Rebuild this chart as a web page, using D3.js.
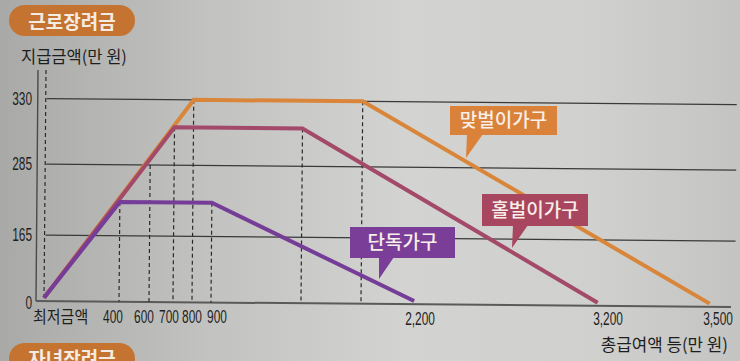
<!DOCTYPE html>
<html><head><meta charset="utf-8">
<script src="https://cdn.jsdelivr.net/npm/d3@7"></script>
<style>body{margin:0;background:#c8c8c6;} svg{display:block;}</style>
</head><body><svg id="c" width="740" height="361"></svg>
<script>
// ---- data ----
const chartTitle = "근로장려금";
const nextTitle = "자녀장려금";
const yTitle = "지급금액(만 원)";
const xTitle = "총급여액 등(만 원)";
const seriesNames = ["맞벌이가구", "홀벌이가구", "단독가구"];
const xBreaks = [0, 400, 600, 700, 800, 900, 1400, 1700, 2200, 3200, 3500];
const xTickValues = [0, 400, 600, 700, 800, 900, 2200, 3200, 3500];
const xTickLabels = ["최저금액", "400", "600", "700", "800", "900", "2,200", "3,200", "3,500"];
const yTickValues = [0, 165, 285, 330];
const yTickLabels = ["0", "165", "285", "330"];
const gridValues = [165, 285, 330];
const incomeDual = [0, 800, 1700, 3480];
const amountDual = [8, 330, 330, 8];
const incomeOne = [0, 700, 1400, 3150];
const amountOne = [8, 311, 311, 8];
const incomeSingle = [0, 400, 900, 2150];
const amountSingle = [8, 222, 222, 8];
const guideX = [0, 400, 600, 700, 800, 900, 1400, 1700];
const guideTop = [null, 222, 285, 311, 330, 222, 311, 330];

// ---- layout / style ----
const svg = d3.select("#c");
const W = 740, H = 361;
const colors = ["#d9853a", "#a3496a", "#753d97"];
const boxColors = ["#da823a", "#a9465f", "#7b3e98"];
const numFont = "'Liberation Sans','Arial',sans-serif";
const krFont = "'Noto Sans CJK KR','Noto Sans',sans-serif";
const labelNudge = [0, -6, -5, -4, 0, 6, 0, 1, 1];
const numSqueeze = 0.68, krSqueeze = 0.91;

const defs = svg.append("defs");
const g1 = defs.append("linearGradient").attr("id", "bg").attr("x1", 0).attr("x2", 1).attr("y1", 0).attr("y2", 0);
[[0, "#a9aaa8"], [0.28, "#c2c3c1"], [0.55, "#d3d3d1"], [0.8, "#d0d0ce"], [1, "#c4c5c3"]]
  .forEach(([o, c]) => g1.append("stop").attr("offset", o).attr("stop-color", c));
svg.append("rect").attr("width", W).attr("height", H).attr("fill", "url(#bg)");

const x = d3.scaleLinear()
  .domain(xBreaks)
  .range([44, 119, 149, 173, 192, 211, 301, 361, 420, 607, 717]);
const y = d3.scaleLinear()
  .domain([0, 165, 285, 330])
  .range([301, 235, 164, 98.5]);

function pill(yTop, text, base) {
  svg.append("rect").attr("x", 9).attr("y", yTop).attr("width", 126).attr("height", 31)
    .attr("rx", 15.5).attr("fill", "#c47430");
  svg.append("text").attr("x", 72).attr("y", base).attr("text-anchor", "middle")
    .attr("font-family", krFont).attr("font-weight", 700).attr("font-size", 19)
    .attr("fill", "#f4ebe2").text(text);
}
pill(5, chartTitle, 28.5);
pill(343, nextTitle, 366);

function squeezed(px, py, sx, anchor, font, size, text) {
  return svg.append("text")
    .attr("transform", `translate(${px},${py}) scale(${sx},1)`)
    .attr("text-anchor", anchor).attr("font-family", font)
    .attr("font-size", size).attr("fill", "#1e1e1e").text(text);
}
squeezed(21, 63, 1.0, "start", krFont, 16.5, yTitle);

const plot = svg.append("g").attr("transform", "rotate(0.5,40,300)");

plot.selectAll(".grid").data(gridValues).join("line")
  .attr("x1", 45).attr("x2", 735)
  .attr("y1", d => y(d)).attr("y2", d => y(d))
  .attr("stroke", "#3a3a3a").attr("stroke-width", 1.3);

plot.append("line").attr("x1", 36).attr("x2", 36).attr("y1", 70).attr("y2", y(0))
  .attr("stroke", "#4a4a4a").attr("stroke-width", 1.4);
plot.append("line").attr("x1", 36).attr("x2", 731).attr("y1", y(0)).attr("y2", y(0))
  .attr("stroke", "#5a5a5a").attr("stroke-width", 2);

plot.selectAll(".guide").data(guideX).join("line")
  .attr("x1", d => x(d)).attr("x2", d => x(d))
  .attr("y1", (d, i) => guideTop[i] === null ? 70 : y(guideTop[i]))
  .attr("y2", y(0))
  .attr("stroke", "#2a2a2a").attr("stroke-width", 1.2).attr("stroke-dasharray", "4,3");

const seriesData = [
  incomeDual.map((v, i) => [v, amountDual[i]]),
  incomeOne.map((v, i) => [v, amountOne[i]]),
  incomeSingle.map((v, i) => [v, amountSingle[i]])
];
const line = d3.line().x(d => x(d[0])).y(d => y(d[1]));
plot.selectAll(".series").data(seriesData).join("path")
  .attr("d", line).attr("fill", "none")
  .attr("stroke", (d, i) => colors[i]).attr("stroke-width", 4)
  .attr("stroke-linejoin", "miter");

yTickValues.forEach((d, i) => {
  squeezed(32, y(d) + (d === 0 ? 2 : 0) + 6.3, numSqueeze, "end", numFont, 17.5, yTickLabels[i]);
});

xTickValues.forEach((d, i) => {
  const by = 323 + (d > 2000 ? 2 : 0);
  if (i === 0) squeezed(33, by, krSqueeze, "start", krFont, 16.5, xTickLabels[i]);
  else squeezed(x(d) + labelNudge[i], by, numSqueeze, "middle", numFont, 17.5, xTickLabels[i]);
});

squeezed(728, 351, 0.99, "end", krFont, 17, xTitle);

const callouts = [
  { box: [450, 106, 107, 29], tail: [[467, 134], [483, 134], [466, 158]] },
  { box: [482, 194, 106, 32], tail: [[513, 225], [528, 225], [512, 248]] },
  { box: [350, 227, 105, 31], tail: [[379, 257], [394, 257], [379, 279]] }
];
callouts.forEach((c, i) => {
  const [bx, by, bw, bh] = c.box;
  svg.append("rect").attr("x", bx).attr("y", by).attr("width", bw).attr("height", bh)
    .attr("fill", boxColors[i]);
  svg.append("polygon").attr("points", c.tail.map(p => p.join(",")).join(" "))
    .attr("fill", boxColors[i]);
  svg.append("text").attr("x", bx + bw / 2).attr("y", by + bh / 2).attr("dy", "0.36em")
    .attr("text-anchor", "middle").attr("font-family", krFont).attr("font-weight", 500)
    .attr("font-size", 19).attr("fill", "#f7efe8").text(seriesNames[i]);
});
</script></body></html>
